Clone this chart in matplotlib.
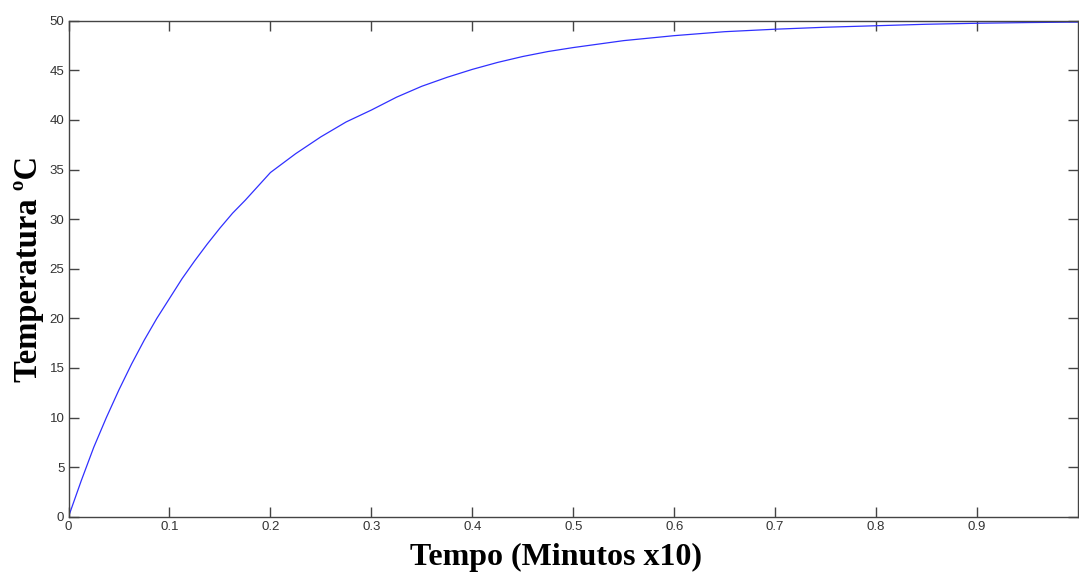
import matplotlib
matplotlib.use('Agg')
import matplotlib.pyplot as plt
import numpy as np

# values
tempo = [0, 0.0125, 0.025, 0.0375, 0.05, 0.0625, 0.075, 0.0875, 0.1, 0.1125,
         0.125, 0.1375, 0.15, 0.1625, 0.175, 0.1875, 0.2, 0.225, 0.25, 0.275,
         0.3, 0.325, 0.35, 0.375, 0.4, 0.425, 0.45, 0.475, 0.5, 0.55, 0.6,
         0.65, 0.7, 0.75, 0.8, 0.85, 0.9, 0.95, 1.0]
temperatura = [0, 3.6, 7.0, 10.0, 12.8, 15.4, 17.8, 20.0, 22.0, 24.0,
               25.8, 27.5, 29.1, 30.6, 31.9, 33.3, 34.7, 36.6, 38.3, 39.8,
               41.0, 42.3, 43.4, 44.3, 45.1, 45.8, 46.4, 46.9, 47.3, 48.0, 48.5,
               48.9, 49.15, 49.35, 49.5, 49.65, 49.75, 49.82, 49.87]
xticks = [0, 0.1, 0.2, 0.3, 0.4, 0.5, 0.6, 0.7, 0.8, 0.9]
xticklabels = ['0', '0.1', '0.2', '0.3', '0.4', '0.5', '0.6', '0.7', '0.8', '0.9']
yticks = [0, 5, 10, 15, 20, 25, 30, 35, 40, 45, 50]

fig = plt.figure(figsize=(10.79, 5.74), dpi=100)
ax = fig.add_axes([0.0635, 0.0998, 0.9356, 0.864])

ax.plot(tempo, temperatura, color='#3030ff', lw=0.9)

ax.set_xlim(0, 1)
ax.set_ylim(0, 50)
ax.set_xticks(xticks)
ax.set_xticklabels(xticklabels)
ax.set_yticks(yticks)

frame = '#444444'
for s in ax.spines.values():
    s.set_color(frame)
    s.set_linewidth(1.0)
ax.tick_params(direction='in', length=7, width=1, color=frame,
               top=True, right=True, labelsize=9.5, labelcolor='#333333', pad=3)
for lab in ax.get_xticklabels() + ax.get_yticklabels():
    lab.set_family('Liberation Sans')

ax.set_xlabel('Tempo (Minutos x10)', family='Liberation Serif',
              fontweight='bold', fontsize=23, labelpad=6)
ax.xaxis.set_label_coords(0.483, -0.053)
ax.set_ylabel('Temperatura ºC', family='Liberation Serif',
              fontweight='bold', fontsize=23.5, labelpad=4)

fig.savefig('out.png', dpi=100)
